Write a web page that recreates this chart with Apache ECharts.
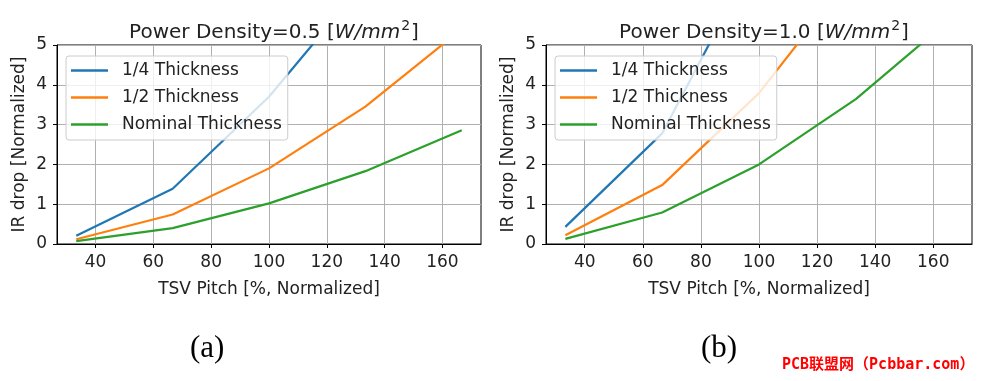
<!DOCTYPE html>
<html>
<head>
<meta charset="utf-8">
<script src="https://cdn.jsdelivr.net/npm/echarts@6/dist/echarts.min.js"></script>
<style>html,body{margin:0;padding:0;background:#fff;}#c{width:984px;height:381px;}</style>
</head>
<body>
<div id="c"></div>
<script>
var pitch = [33.33, 66.67, 100, 133.33, 166.67];
var xTicks = [40, 60, 80, 100, 120, 140, 160];
var seriesNames = ['1/4 Thickness', '1/2 Thickness', 'Nominal Thickness'];
var titles = ['Power Density=0.5 [', 'Power Density=1.0 ['];
var leftQuarter = [0.21, 1.39, 3.7, 6.6, 10.5];
var leftHalf = [0.12, 0.74, 1.9, 3.45, 5.4];
var leftNominal = [0.07, 0.4, 1.02, 1.83, 2.86];
var rightQuarter = [0.43, 2.78, 7.4, 13.2, 21];
var rightHalf = [0.22, 1.48, 3.79, 6.9, 10.8];
var rightNominal = [0.13, 0.79, 2.0, 3.64, 5.7];
var colors = ['#1f77b4', '#ff7f0e', '#2ca02c'];

var font = 'DejaVu Sans';
var txt = '#222';
var grids = [
  {left: 57, top: 45, width: 424, height: 199, show: true, borderColor: '#000', borderWidth: 1, backgroundColor: 'transparent'},
  {left: 546, top: 45, width: 426, height: 199, show: true, borderColor: '#000', borderWidth: 1, backgroundColor: 'transparent'}
];
function mkX(i) {
  return {
    type: 'value', gridIndex: i, min: 26.67, max: 173.33,
    name: 'TSV Pitch [%, Normalized]', nameLocation: 'middle', nameGap: 37,
    nameTextStyle: {fontFamily: font, fontSize: 17, color: txt},
    axisLine: {show: true, lineStyle: {color: '#000', width: 1}},
    axisTick: {show: true, inside: false, length: 4, lineStyle: {color: '#000'}, customValues: xTicks},
    axisLabel: {fontFamily: font, fontSize: 17, color: txt, margin: 10, customValues: xTicks},
    splitLine: {show: true, lineStyle: {color: '#b0b0b0', width: 1}}
  };
}
function mkY(i) {
  return {
    type: 'value', gridIndex: i, min: 0, max: 5, interval: 1,
    name: 'IR drop [Normalized]', nameLocation: 'middle', nameGap: 29, nameRotate: 90,
    nameTextStyle: {fontFamily: font, fontSize: 17, color: txt},
    axisLine: {show: true, lineStyle: {color: '#000', width: 1}},
    axisTick: {show: true, inside: false, length: 4, lineStyle: {color: '#000'}},
    axisLabel: {fontFamily: font, fontSize: 17, color: txt, margin: 10},
    splitLine: {show: true, lineStyle: {color: '#b0b0b0', width: 1}}
  };
}
function mkSeries(name, vals, idx, color) {
  return {
    name: name, type: 'line', xAxisIndex: idx, yAxisIndex: idx,
    data: pitch.map(function (p, k) { return [p, vals[k]]; }),
    symbol: 'none', showSymbol: false, clip: true,
    lineStyle: {color: color, width: 2.2}, itemStyle: {color: color},
    animation: false
  };
}
function mkLegend(left) {
  return {
    orient: 'vertical', left: left, top: 56,
    data: seriesNames.map(function (n) { return {name: n, icon: 'rect'}; }),
    itemWidth: 37, itemHeight: 2.5, itemGap: 8,
    padding: [5, 6, 6, 5],
    backgroundColor: 'rgba(255,255,255,0.8)', borderColor: '#cccccc', borderWidth: 1, borderRadius: 3,
    textStyle: {fontFamily: font, fontSize: 17, color: txt, lineHeight: 19, padding: [0, 0, 0, 9]},
    selectedMode: false
  };
}
function mkTitle(t, left) {
  return {
    text: '{n|' + t + '}{i|W/mm}{s|2}{n|]}', left: left, top: 14, textAlign: 'center',
    textStyle: {
      fontWeight: 'normal',
      rich: {
        n: {fontFamily: font, fontSize: 20, fontWeight: 'normal', color: txt},
        i: {fontFamily: font, fontSize: 20, fontWeight: 'normal', fontStyle: 'italic', color: txt},
        s: {fontFamily: font, fontSize: 14, fontWeight: 'normal', color: txt, padding: [0, 1, 13, 1]}
      }
    }
  };
}
var chart = echarts.init(document.getElementById('c'), null, {renderer: 'canvas'});
chart.setOption({
  animation: false,
  backgroundColor: '#fff',
  title: [mkTitle(titles[0], 269), mkTitle(titles[1], 759)],
  legend: [mkLegend(66), mkLegend(555)],
  grid: grids,
  xAxis: [mkX(0), mkX(1)],
  yAxis: [mkY(0), mkY(1)],
  series: [
    mkSeries(seriesNames[0], leftQuarter, 0, colors[0]),
    mkSeries(seriesNames[1], leftHalf, 0, colors[1]),
    mkSeries(seriesNames[2], leftNominal, 0, colors[2]),
    mkSeries(seriesNames[0], rightQuarter, 1, colors[0]),
    mkSeries(seriesNames[1], rightHalf, 1, colors[1]),
    mkSeries(seriesNames[2], rightNominal, 1, colors[2])
  ],
  graphic: [
    {type: 'text', left: 190, top: 333, style: {text: '(a)', fontFamily: 'Liberation Serif', fontSize: 31, fill: '#000'}},
    {type: 'text', left: 701, top: 333, style: {text: '(b)', fontFamily: 'Liberation Serif', fontSize: 31, fill: '#000'}},
    {type: 'text', left: 782, top: 358, style: {text: 'PCB联盟网（Pcbbar.com）', fontFamily: 'DejaVu Sans Mono, Noto Sans CJK SC', fontSize: 15, fontWeight: 'bold', fill: '#ff0000'}}
  ]
});
</script>
</body>
</html>
